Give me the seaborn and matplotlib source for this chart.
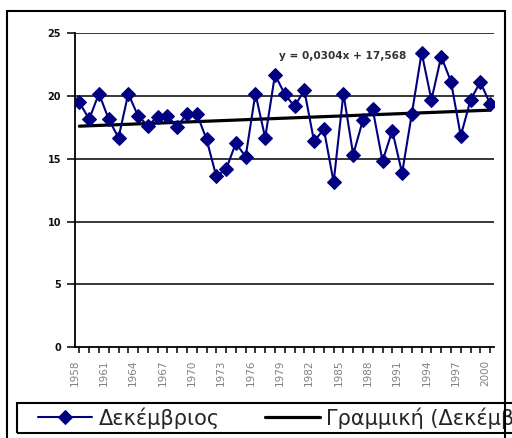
import matplotlib
matplotlib.use("Agg")
import matplotlib.pyplot as plt
import matplotlib.transforms as mtransforms
from matplotlib.patches import Rectangle
import seaborn as sns
import pandas as pd
import numpy as np

# December mean values per year
years = list(range(1958, 2001))
december = [
    19.5, 18.15, 20.2, 18.15, 16.67, 20.2, 18.4, 17.65, 18.33, 18.4,
    17.55, 18.6, 18.6, 16.56, 13.6, 14.17, 16.25, 15.16, 20.2, 16.67,
    21.7, 20.15, 19.17, 20.47, 16.38, 17.37, 13.13, 20.2, 15.34, 18.1,
    18.93, 14.82, 17.24, 13.85, 18.6, 23.46, 19.69, 23.15, 21.15, 16.82,
    19.69, 21.12, 19.38,
]

# Linear trend as stated in the equation label
slope = 0.0304
intercept = 17.568
trend_label = "y = 0,0304x + 17,568"

y_ticks = [0, 5, 10, 15, 20, 25]
labelled_years = list(range(1958, 2001, 3))

series_name = "Δεκέμβριος"
trend_name = "Γραμμική (Δεκέμβριος)"

sns.set_theme(style="white")
plt.rcParams["font.family"] = ["Liberation Sans", "DejaVu Sans"]

W, H = 512, 438
fig = plt.figure(figsize=(W / 100, H / 100), dpi=100)
fig.patch.set_facecolor("white")

ax_left, ax_right, ax_top, ax_bottom = 75, 494, 33.3, 347
ax = fig.add_axes([ax_left / W, 1 - ax_bottom / H,
                   (ax_right - ax_left) / W, (ax_bottom - ax_top) / H])

df = pd.DataFrame({"year": years, "value": december})
df["trend"] = intercept + slope * np.arange(1, len(years) + 1)

sns.lineplot(data=df, x="year", y="trend", color="black", linewidth=2.3,
             ax=ax, zorder=3, legend=False)
trend_line = ax.lines[-1]
sns.lineplot(data=df, x="year", y="value", color="#000080", linewidth=1.5,
             marker="D", markersize=7, markeredgecolor="#000080",
             ax=ax, zorder=4, legend=False)
data_line = ax.lines[-1]

ax.set_xlim(1957.55, 2000.4)
ax.set_ylim(0, 25)
ax.set_xlabel("")
ax.set_ylabel("")

# horizontal gridlines
ax.set_yticks(y_ticks)
for v in y_ticks[1:]:
    ax.axhline(v, color="black", linewidth=1.1, zorder=1)

for side in ["top", "right"]:
    ax.spines[side].set_visible(False)
for side in ["left", "bottom"]:
    ax.spines[side].set_color("black")
    ax.spines[side].set_linewidth(1.3)

ax.tick_params(axis="y", direction="out", length=6, width=1.1, color="black",
               labelsize=7, labelcolor="#111111", pad=4, left=True)
for lbl in ax.get_yticklabels():
    lbl.set_fontweight("bold")
    lbl.set_family("DejaVu Sans")

ax.set_xticks(years)
ax.set_xticklabels([str(y) if y in labelled_years else "" for y in years],
                   rotation=90, family="DejaVu Sans")
ax.tick_params(axis="x", direction="out", length=4, width=1.1, color="black",
               labelsize=7.5, labelcolor="#808080", pad=5, bottom=True)
shift = mtransforms.ScaledTranslation(-5 / 100, 0, fig.dpi_scale_trans)
for lbl in ax.get_xticklabels():
    lbl.set_transform(lbl.get_transform() + shift)

ax.text(1978.4, 23.2, trend_label, ha="left", va="center", fontsize=7.6,
        fontweight="bold", color="#333333", family="DejaVu Sans", zorder=5)

# legend box, running past the right edge of the chart area
fig.patches.append(Rectangle((17 / W, 1 - 433 / H), 0.99, 30 / H,
                             transform=fig.transFigure, fill=False,
                             edgecolor="black", linewidth=1.5, zorder=9))
leg = fig.legend([data_line, trend_line], [series_name, trend_name],
                 loc="center left", bbox_to_anchor=(38 / W, 1 - 418 / H),
                 ncol=2, frameon=False, prop={"family": "DejaVu Sans", "size": 15},
                 handlelength=2.6, handletextpad=0.3, columnspacing=2.2,
                 borderpad=0, borderaxespad=0)

# chart area frame
fig.patches.append(Rectangle((7 / W, -0.05), (505 - 7) / W, (H - 11) / H + 0.05,
                             transform=fig.transFigure, fill=False,
                             edgecolor="black", linewidth=1.5, zorder=10))

fig.savefig("out.png", dpi=100)
